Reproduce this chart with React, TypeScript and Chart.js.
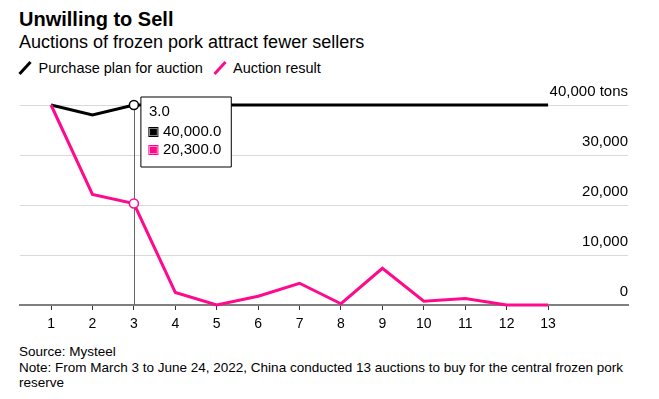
import React, { useEffect, useRef } from 'react';
import { Chart, registerables, Tooltip } from 'chart.js';

Chart.register(...registerables);

const FONT = '"Liberation Sans", Arial, Helvetica, sans-serif';

// ---- data ----
const AUCTIONS = [1, 2, 3, 4, 5, 6, 7, 8, 9, 10, 11, 12, 13];
const PURCHASE_PLAN = [40000, 38000, 40000, 40000, 40000, 40000, 40000, 40000, 40000, 40000, 40000, 40000, 40000];
const AUCTION_RESULT = [40000, 22100, 20300, 2500, 0, 1750, 4350, 250, 7350, 750, 1300, 0, 0];
const Y_TICKS = [0, 10000, 20000, 30000, 40000];
const Y_UNIT = 'tons';
const SERIES_NAMES = ['Purchase plan for auction', 'Auction result'];
const SERIES_COLORS = ['#000000', '#ff0a8c'];
const HOVER_INDEX = 2;

const TITLE = 'Unwilling to Sell';
const SUBTITLE = 'Auctions of frozen pork attract fewer sellers';
const SOURCE = 'Source: Mysteel';
const NOTE_LINE1 = 'Note: From March 3 to June 24, 2022, China conducted 13 auctions to buy for the central frozen pork';
const NOTE_LINE2 = 'reserve';

(Tooltip as any).positioners.besidePoint = function (elements: any[]) {
  if (!elements.length) return false;
  const chart = this.chart;
  return { x: elements[0].element.x, y: chart.chartArea.top + 27 };
};

const hoverLine = {
  id: 'hoverLine',
  beforeDatasetsDraw(chart: any) {
    const el = chart.getDatasetMeta(0).data[HOVER_INDEX];
    if (!el) return;
    const { ctx, chartArea } = chart;
    const x = Math.round(el.x) + 0.5;
    ctx.save();
    ctx.strokeStyle = '#666666';
    ctx.lineWidth = 1;
    ctx.beginPath();
    ctx.moveTo(x, chartArea.top);
    ctx.lineTo(x, chartArea.bottom);
    ctx.stroke();
    ctx.restore();
  },
};

const fmt1 = (v: number) =>
  v.toLocaleString('en-US', { minimumFractionDigits: 1, maximumFractionDigits: 1 });

function ChartCanvas() {
  const ref = useRef<HTMLCanvasElement | null>(null);
  useEffect(() => {
    if (!ref.current) return;
    Chart.defaults.font.family = FONT;
    const series = [PURCHASE_PLAN, AUCTION_RESULT];
    const chart = new Chart(ref.current, {
      type: 'line',
      data: {
        datasets: series.map((vals, s) => ({
          label: SERIES_NAMES[s],
          data: AUCTIONS.map((a, i) => ({ x: a, y: vals[i] })),
          borderColor: SERIES_COLORS[s],
          backgroundColor: SERIES_COLORS[s],
          borderWidth: 3,
          tension: 0,
          clip: false as any,
          order: s === 0 ? 2 : 1,
          pointRadius: (ctx: any) => (ctx.dataIndex === HOVER_INDEX ? 4.5 : 0),
          pointHoverRadius: (ctx: any) => (ctx.dataIndex === HOVER_INDEX ? 4.5 : 0),
          pointBackgroundColor: '#ffffff',
          pointBorderColor: SERIES_COLORS[s],
          pointBorderWidth: 1.5,
        })),
      },
      options: {
        animation: false,
        responsive: false,
        events: [],
        layout: { padding: { left: 20, right: 31, top: 30, bottom: 0 } },
        scales: {
          x: {
            type: 'linear',
            min: 0.25,
            max: 14.93,
            afterBuildTicks: (scale: any) => {
              scale.ticks = AUCTIONS.map((v) => ({ value: v }));
            },
            afterFit: (scale: any) => {
              scale.height = 35;
            },
            grid: {
              drawOnChartArea: false,
              drawTicks: true,
              tickLength: 5,
              color: '#333333',
              lineWidth: 1,
            },
            border: { display: true, color: '#7f7f7f', width: 2 },
            ticks: {
              color: '#000',
              font: { size: 14, family: FONT },
              padding: 6,
              maxRotation: 0,
              autoSkip: false,
              callback: (v: any) => String(v),
            },
          },
          y: {
            type: 'linear',
            position: 'right',
            min: 0,
            max: 40000,
            afterBuildTicks: (scale: any) => {
              scale.ticks = Y_TICKS.map((v) => ({ value: v }));
            },
            afterFit: (scale: any) => {
              scale.width = 0;
            },
            grid: { color: '#d9d9d9', lineWidth: 1, drawTicks: false },
            border: { display: false },
            ticks: {
              mirror: true,
              padding: 0,
              labelOffset: -13.5,
              color: '#000',
              font: { size: 15, family: FONT },
              callback: (v: any) =>
                v === Y_TICKS[Y_TICKS.length - 1]
                  ? `${Number(v).toLocaleString('en-US')} ${Y_UNIT}`
                  : Number(v).toLocaleString('en-US'),
            },
          },
        },
        plugins: {
          legend: { display: false },
          title: { display: false },
          tooltip: {
            enabled: true,
            position: 'besidePoint' as any,
            xAlign: 'left',
            yAlign: 'center',
            caretSize: 0,
            caretPadding: 7,
            backgroundColor: '#ffffff',
            borderColor: '#000000',
            borderWidth: 1,
            cornerRadius: 0,
            titleColor: '#000',
            bodyColor: '#000',
            titleFont: { family: FONT, size: 15, weight: 'normal' as any },
            bodyFont: { family: FONT, size: 15 },
            titleMarginBottom: 2,
            bodySpacing: 0,
            padding: { top: 6, right: 10, bottom: 8, left: 8 } as any,
            boxWidth: 9,
            boxHeight: 9,
            boxPadding: 3,
            callbacks: {
              title: (items: any[]) => Number(items[0].parsed.x).toFixed(1),
              label: (ctx: any) => fmt1(ctx.parsed.y),
              labelColor: (ctx: any) => ({
                borderColor: SERIES_COLORS[ctx.datasetIndex],
                backgroundColor: SERIES_COLORS[ctx.datasetIndex],
                borderWidth: 0,
                borderRadius: 0,
              }),
            },
          },
        },
      } as any,
      plugins: [hoverLine],
    });
    const active = [
      { datasetIndex: 0, index: HOVER_INDEX },
      { datasetIndex: 1, index: HOVER_INDEX },
    ];
    chart.tooltip?.setActiveElements(active, { x: 0, y: 0 });
    chart.draw();
    return () => chart.destroy();
  }, []);
  return (
    <canvas
      ref={ref}
      width={659}
      height={265}
      style={{ position: 'absolute', left: 0, top: 75, width: 659, height: 265 }}
    />
  );
}

function Slash({ color, left }: { color: string; left: number }) {
  return (
    <svg
      width={16}
      height={16}
      style={{ position: 'absolute', left, top: 60 }}
    >
      <line x1={1.5} y1={14} x2={12.5} y2={2} stroke={color} strokeWidth={3} />
    </svg>
  );
}

export default function App() {
  const legendX = [18, 213];
  const legendTextX = [38.5, 233];
  return (
    <div
      style={{
        position: 'fixed',
        left: 0,
        top: 0,
        width: 659,
        height: 399,
        background: '#fff',
        color: '#000',
        fontFamily: FONT,
        overflow: 'hidden',
      }}
    >
      <div style={{ position: 'absolute', left: 19, top: 7, fontSize: 20, fontWeight: 700, lineHeight: '24px', whiteSpace: 'nowrap' }}>
        {TITLE}
      </div>
      <div style={{ position: 'absolute', left: 19, top: 31, fontSize: 18, lineHeight: '22px', whiteSpace: 'nowrap' }}>
        {SUBTITLE}
      </div>
      {SERIES_NAMES.map((name, i) => (
        <React.Fragment key={name}>
          <Slash color={SERIES_COLORS[i]} left={legendX[i]} />
          <div
            style={{
              position: 'absolute',
              left: legendTextX[i],
              top: 59,
              fontSize: 14.5,
              lineHeight: '18px',
              whiteSpace: 'nowrap',
            }}
          >
            {name}
          </div>
        </React.Fragment>
      ))}
      <ChartCanvas />
      <div style={{ position: 'absolute', left: 19, top: 344, fontSize: 13.5, lineHeight: '15.5px', whiteSpace: 'nowrap' }}>
        <div>{SOURCE}</div>
        <div>{NOTE_LINE1}</div>
        <div>{NOTE_LINE2}</div>
      </div>
    </div>
  );
}
